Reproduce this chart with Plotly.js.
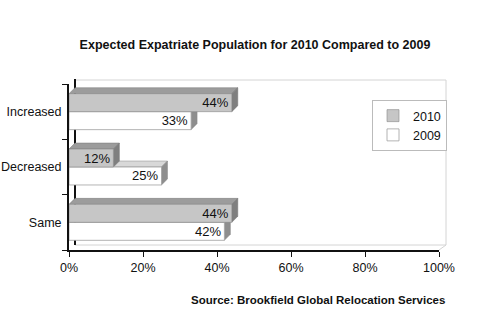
<!DOCTYPE html>
<html><head><meta charset="utf-8">
<script src="https://cdn.plot.ly/plotly-3.0.1.min.js"></script>
<style>html,body{margin:0;padding:0;background:#fff;}#chart{width:500px;height:322px;}</style>
</head><body><div id="chart"></div>
<script>
const categories = ['Increased', 'Decreased', 'Same'];
const values2010 = [44, 12, 44];
const values2009 = [33, 25, 42];
const seriesNames = ['2010', '2009'];
const xTickVals = [0, 20, 40, 60, 80, 100];
const xTickText = ['0%', '20%', '40%', '60%', '80%', '100%'];
const titleText = 'Expected Expatriate Population for 2010 Compared to 2009';
const sourceText = 'Source: Brookfield Global Relocation Services';

const FONT = '"Liberation Sans Narrow", "Liberation Sans", Arial, sans-serif';
const f = (size, weight) => ({family: FONT, size: size, color: '#111', weight: weight || 'normal'});
const pos = categories.map((c, i) => categories.length - 1 - i);
const half = 0.325;           // bar thickness in category units (bargap 0.35)
const dx = 1.62, dy = 0.108;  // 3D depth in data units

const shapes = [];
const px = v => (v - 69) / 370, py = v => (250 - v) / 166;
const line = (x0, y0, x1, y1, color, w) => shapes.push({type: 'line', xref: 'paper', yref: 'paper', x0: px(x0), y0: py(y0), x1: px(x1), y1: py(y1), line: {color: color, width: w}, layer: 'below'});
line(75, 80, 446, 80, '#d4d4d4', 1);
line(446, 80, 446, 245, '#d4d4d4', 1);
line(75, 245, 446, 245, '#d4d4d4', 1);
line(439, 250, 446, 245, '#d4d4d4', 1);
line(75, 79, 75, 245, '#111', 2);

function faces(vals, lower, side, top, edge) {
  vals.forEach((v, i) => {
    const y0 = lower ? pos[i] - half : pos[i];
    const y1 = lower ? pos[i] : pos[i] + half;
    shapes.push({type: 'path', xref: 'x', yref: 'y', layer: 'below',
      path: `M0,${y1} L${v},${y1} L${v + dx},${y1 + dy} L${dx},${y1 + dy} Z`,
      fillcolor: top, line: {color: edge, width: 0.5}});
    shapes.push({type: 'path', xref: 'x', yref: 'y', layer: 'below',
      path: `M${v},${y0} L${v},${y1} L${v + dx},${y1 + dy} L${v + dx},${y0 + dy} Z`,
      fillcolor: side, line: {color: edge, width: 0.5}});
  });
}
faces(values2009, true, '#8e8e8e', '#d8d8d8', '#888');
faces(values2010, false, '#7f7f7f', '#9c9c9c', '#777');

const traces = [
  {type: 'bar', orientation: 'h', name: seriesNames[1], x: values2009, y: pos,
   marker: {color: '#ffffff', line: {color: '#a0a0a0', width: 0.8}},
   texttemplate: '%{x}%', textposition: 'inside', insidetextanchor: 'end', constraintext: 'none',
   textfont: f(13), hoverinfo: 'skip'},
  {type: 'bar', orientation: 'h', name: seriesNames[0], x: values2010, y: pos,
   marker: {color: '#c6c6c6', line: {color: '#888', width: 0.6}},
   texttemplate: '%{x}%', textposition: 'inside', insidetextanchor: 'end', constraintext: 'none',
   textfont: f(13), hoverinfo: 'skip'}
];

const layout = {
  width: 500, height: 322,
  margin: {l: 69, r: 61, t: 84, b: 72, pad: 0},
  paper_bgcolor: '#fff', plot_bgcolor: 'rgba(0,0,0,0)',
  font: f(12),
  barmode: 'group', bargap: 0.35, bargroupgap: 0,
  title: {text: '<b>' + titleText + '</b>', font: f(12.5, 'bold'),
          x: 0.51, xanchor: 'center', y: 0.86, yanchor: 'middle'},
  xaxis: {range: [0, 100], tickvals: xTickVals, ticktext: xTickText, showgrid: false, zeroline: false,
          showline: true, linecolor: '#111', linewidth: 1.5, ticks: 'outside', ticklen: 5, tickcolor: '#111',
          tickfont: f(12.5), fixedrange: true},
  yaxis: {range: [-0.5, 2.5], tickvals: pos, ticktext: categories, ticks: '', showgrid: false, zeroline: false,
          showline: true, linecolor: '#111', linewidth: 2, ticklabelstandoff: 3,
          minor: {tickmode: 'array', tickvals: [-0.5, 0.5, 1.5, 2.5], ticks: 'outside', ticklen: 5, tickcolor: '#111', showgrid: false},
          tickfont: f(12.5), fixedrange: true},
  legend: {x: px(372), y: py(100), xanchor: 'left', yanchor: 'top', traceorder: 'reversed',
           bgcolor: '#fff', bordercolor: '#bbb', borderwidth: 1,
           font: f(12.5), itemwidth: 30, tracegroupgap: 0},
  annotations: [{text: '<b>' + sourceText + '</b>', xref: 'paper', yref: 'paper', x: px(447), y: py(300),
                 xanchor: 'right', yanchor: 'middle', showarrow: false, font: f(11.5, 'bold')}],
  shapes: shapes
};

Plotly.newPlot('chart', traces, layout, {displayModeBar: false, staticPlot: true});
</script></body></html>
